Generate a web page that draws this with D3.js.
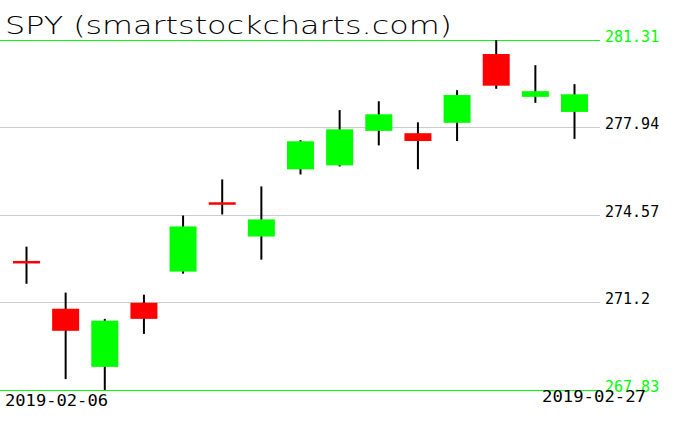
<!DOCTYPE html>
<html>
<head>
<meta charset="utf-8">
<script src="https://cdn.jsdelivr.net/npm/d3@7"></script>
<style>
  html, body { margin: 0; padding: 0; background: #fff; }
  svg { display: block; }
</style>
</head>
<body>
<svg id="chart" width="676" height="431"></svg>
<script>
const dates = ["2019-02-06","2019-02-07","2019-02-08","2019-02-11","2019-02-12","2019-02-13","2019-02-14","2019-02-15","2019-02-19","2019-02-20","2019-02-21","2019-02-22","2019-02-25","2019-02-26","2019-02-27"];
const opens  = [272.80, 270.96, 268.72, 271.19, 272.39, 275.06, 273.74, 276.33, 276.48, 277.81, 277.72, 278.12, 280.77, 279.12, 278.54];
const highs  = [273.35, 271.58, 270.57, 271.50, 274.55, 275.94, 275.67, 277.45, 278.61, 278.95, 278.14, 279.38, 281.31, 280.34, 279.61];
const lows   = [271.92, 268.25, 267.83, 269.99, 272.31, 274.59, 272.85, 276.13, 276.44, 277.25, 276.33, 277.42, 279.43, 278.89, 277.50];
const closes = [272.74, 270.11, 270.50, 270.57, 274.13, 275.00, 274.40, 277.41, 277.87, 278.45, 277.42, 279.19, 279.55, 279.34, 279.22];
const tickLabels = ["267.83", "271.2", "274.57", "277.94", "281.31"];
const title = "SPY (smartstockcharts.com)";

const svg = d3.select("#chart");
const x = d3.scalePoint().domain(dates).range([26.5, 574.5]);
const y = d3.scaleLinear().domain([267.83, 281.31]).range([390, 40]);
const bodyW = x.step() * 0.69;
const tickVals = tickLabels.map(Number);
const isEdge = i => i === 0 || i === tickVals.length - 1;

// grid lines (as 1px rects)
svg.append("g").selectAll("rect").data(tickVals).join("rect")
  .attr("x", 0).attr("width", 600)
  .attr("y", d => Math.floor(y(d) + 1e-6)).attr("height", 1)
  .attr("fill", (d, i) => isEdge(i) ? "#00ff00" : "#cccccc");

// right axis labels
const axis = d3.axisRight(y).tickValues(tickVals).tickSize(0).tickPadding(0)
  .tickFormat((d, i) => tickLabels[i]);
const ag = svg.append("g").attr("transform", "translate(605,0)").call(axis);
ag.select(".domain").remove();
ag.selectAll(".tick line").remove();
ag.selectAll("text")
  .attr("dy", 0)
  .attr("y", 1)
  .attr("font-family", "DejaVu Sans Mono, monospace")
  .attr("font-size", 15)
  .attr("fill", (d, i) => isEdge(i) ? "#00ff00" : "#000");

// candles
const data = dates.map((d, i) => ({d, o: opens[i], h: highs[i], l: lows[i], c: closes[i]}));
const cg = svg.append("g").selectAll("g").data(data).join("g");
cg.append("line")
  .attr("x1", d => x(d.d)).attr("x2", d => x(d.d))
  .attr("y1", d => y(d.h)).attr("y2", d => y(d.l))
  .attr("stroke", "#000").attr("stroke-width", 2);
cg.append("rect")
  .attr("x", d => x(d.d) - bodyW / 2)
  .attr("width", bodyW)
  .attr("y", d => y(Math.max(d.o, d.c)))
  .attr("height", d => Math.max(2.5, Math.abs(y(d.o) - y(d.c))))
  .attr("fill", d => d.c >= d.o ? "#00ff00" : "#ff0000");

// title
svg.append("text")
  .attr("x", 5).attr("y", 34)
  .attr("font-family", "DejaVu Sans, sans-serif")
  .attr("font-weight", 200)
  .attr("font-size", 25)
  .attr("textLength", 447).attr("lengthAdjust", "spacingAndGlyphs")
  .text(title);

// date labels
svg.append("text")
  .attr("x", 5).attr("y", 406)
  .attr("font-family", "DejaVu Sans Mono, monospace")
  .attr("font-size", 16)
  .attr("textLength", 103).attr("lengthAdjust", "spacingAndGlyphs")
  .text(dates[0]);
svg.append("text")
  .attr("x", 646).attr("y", 402)
  .attr("text-anchor", "end")
  .attr("font-family", "DejaVu Sans Mono, monospace")
  .attr("font-size", 16)
  .attr("textLength", 104).attr("lengthAdjust", "spacingAndGlyphs")
  .text(dates[dates.length - 1]);
</script>
</body>
</html>
